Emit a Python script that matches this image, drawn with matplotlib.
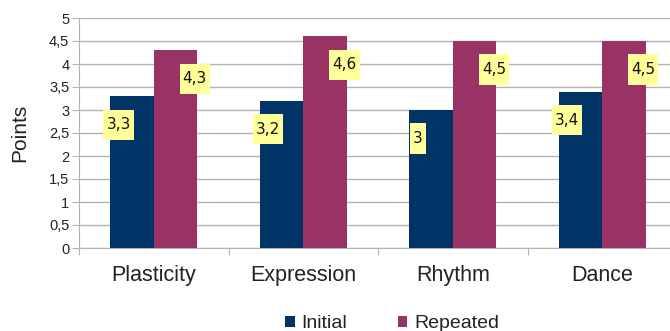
import numpy as np
import matplotlib
matplotlib.use('Agg')
import matplotlib.pyplot as plt
from matplotlib.path import Path
from matplotlib.ticker import FixedLocator, FuncFormatter

# scores per skill, before and after
categories = ['Plasticity', 'Expression', 'Rhythm', 'Dance']
initial = [3.3, 3.2, 3.0, 3.4]
repeated = [4.3, 4.6, 4.5, 4.5]
series_names = ['Initial', 'Repeated']

c_initial = '#003366'
c_repeated = '#993366'
grid_col = '#b3b3b3'
text_col = '#222222'

plt.rcParams['font.family'] = ['Liberation Sans', 'DejaVu Sans']


def tall_box(x0, y0, width, height, mutation_size):
    # rectangle with less side padding than top/bottom padding
    px, py = 0.2 * mutation_size, 0.5 * mutation_size
    x0, y0 = x0 - px, y0 - py
    x1, y1 = x0 + width + 2 * px, y0 + height + 2 * py
    return Path([(x0, y0), (x1, y0), (x1, y1), (x0, y1), (x0, y0)], closed=True)


def fmt(v):
    return ('%g' % v).replace('.', ',')


fig = plt.figure(figsize=(6.7, 3.31), dpi=100)
ax = fig.add_axes([79/670, 1-248/331, 598/670, 230/331])

x = np.arange(len(categories))
w = 0.29
b1 = ax.bar(x - w/2, initial, w, color=c_initial, label=series_names[0], zorder=3)
b2 = ax.bar(x + w/2, repeated, w, color=c_repeated, label=series_names[1], zorder=3)

ax.set_xlim(-0.5, len(categories) - 0.5)
ax.set_ylim(0, 5)

# y axis: half-point steps with comma decimals
ax.yaxis.set_major_locator(FixedLocator(np.arange(0, 5.01, 0.5)))
ax.yaxis.set_major_formatter(FuncFormatter(lambda v, p: fmt(v)))
ax.grid(axis='y', color=grid_col, linewidth=1, zorder=0)
ax.tick_params(axis='y', length=5, color=grid_col, labelsize=10.5, labelcolor=text_col, pad=2)

# x axis: ticks on the category boundaries, names in the middle
ax.xaxis.set_major_locator(FixedLocator(np.arange(-0.5, len(categories), 1.0)))
ax.xaxis.set_major_formatter(FuncFormatter(lambda v, p: ''))
ax.xaxis.set_minor_locator(FixedLocator(x))
ax.set_xticklabels(categories, minor=True)
ax.tick_params(axis='x', which='major', length=5, color=grid_col)
ax.tick_params(axis='x', which='minor', length=0, pad=12, labelsize=15.5, labelcolor=text_col)

for side in ['top', 'right']:
    ax.spines[side].set_visible(False)
for side in ['left', 'bottom']:
    ax.spines[side].set_color(grid_col)

ax.set_ylabel('Points', fontsize=15, color=text_col, labelpad=14)

# yellow value boxes, hanging a bit below each bar top
box = dict(boxstyle=tall_box, fc='#ffff99', ec='none')
for xi, v in zip(x, initial):
    ax.text(xi - w/2 - 0.09, v - 0.62, fmt(v), ha='center', va='center',
            fontsize=11, family='DejaVu Sans', color='#111111', bbox=box, zorder=5)
for xi, v in zip(x, repeated):
    ax.text(xi + w/2 + 0.13, v - 0.62, fmt(v), ha='center', va='center',
            fontsize=11, family='DejaVu Sans', color='#111111', bbox=box, zorder=5)

fig.legend(handles=[b1, b2], loc='center', bbox_to_anchor=(392/670, 1-324/331), ncol=2,
           frameon=False, fontsize=14, handlelength=0.5, handleheight=0.5, handletextpad=0.35,
           columnspacing=2.6, labelcolor=text_col)

fig.savefig('out.png', dpi=100)
